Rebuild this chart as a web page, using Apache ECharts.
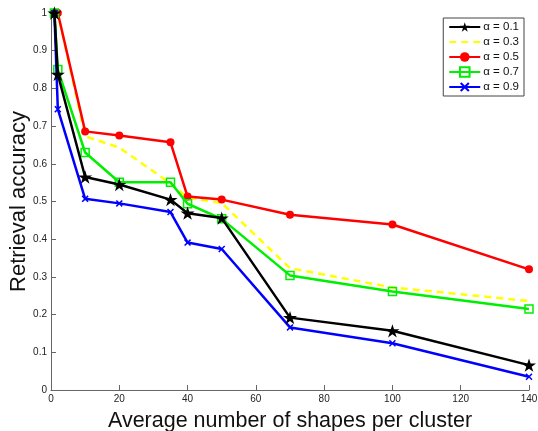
<!DOCTYPE html>
<html><head><meta charset="utf-8">
<script src="https://cdn.jsdelivr.net/npm/echarts@6/dist/echarts.min.js"></script>
<style>html,body{margin:0;padding:0;background:#fff}#c{width:538px;height:431px}</style>
</head><body><div id="c"></div>
<script>
var xValues = [1, 2, 10, 20, 35, 40, 50, 70, 100, 140];
var seriesNames = ['α = 0.1', 'α = 0.3', 'α = 0.5', 'α = 0.7', 'α = 0.9'];
var alpha01 = [1.0, 0.837, 0.565, 0.545, 0.505, 0.469, 0.456, 0.192, 0.157, 0.066];
var alpha03 = [1.0, 1.0, 0.673, 0.643, 0.548, 0.510, 0.496, 0.323, 0.272, 0.236];
var alpha05 = [1.0, 1.0, 0.686, 0.675, 0.657, 0.513, 0.505, 0.465, 0.439, 0.320];
var alpha07 = [1.0, 0.850, 0.630, 0.551, 0.551, 0.494, 0.454, 0.304, 0.261, 0.215];
var alpha09 = [1.0, 0.745, 0.507, 0.495, 0.472, 0.391, 0.374, 0.166, 0.124, 0.035];
var xTicks = [0, 20, 40, 60, 80, 100, 120, 140];
var yTickLabels = ['0', '0.1', '0.2', '0.3', '0.4', '0.5', '0.6', '0.7', '0.8', '0.9', '1'];

function pairs(ys) { return xValues.map(function (x, i) { return [x, ys[i]]; }); }

var starPath = 'path://M50,0 L61.2,34.5 L97.6,34.5 L68.2,55.9 L79.4,90.5 L50,69.1 L20.6,90.5 L31.8,55.9 L2.4,34.5 L38.8,34.5 Z';
var crossPath = 'path://M0,3 L3,0 L10,7 L17,0 L20,3 L13,10 L20,17 L17,20 L10,13 L3,20 L0,17 L7,10 Z';
var FONT = 'Liberation Sans, Arial, Helvetica, sans-serif';

var chart = echarts.init(document.getElementById('c'), null, {renderer: 'canvas'});
chart.setOption({
  animation: false,
  backgroundColor: '#fff',
  grid: {left: 51, right: 9, top: 13, bottom: 41, containLabel: false, outerBoundsMode: 'none'},
  legend: {
    orient: 'vertical', right: 14, top: 18,
    backgroundColor: '#fff', borderColor: '#444', borderWidth: 1, borderRadius: 0,
    padding: [3, 5, 3, 5], itemGap: 3, itemWidth: 31, itemHeight: 12,
    textStyle: {fontFamily: FONT, fontSize: 11.5, color: '#111', padding: [0, 0, 0, -2]},
    data: [
      {name: seriesNames[0]},
      {name: seriesNames[1], itemStyle: {opacity: 0}},
      {name: seriesNames[2]},
      {name: seriesNames[3]},
      {name: seriesNames[4]}
    ]
  },
  xAxis: {
    type: 'value', min: 0, max: 140, interval: 20,
    name: 'Average number of shapes per cluster', nameLocation: 'middle', nameGap: 20,
    nameMoveOverlap: false,
    nameTextStyle: {fontFamily: FONT, fontSize: 21.5, color: '#111'},
    axisLine: {show: true, lineStyle: {color: '#666', width: 1}},
    axisTick: {show: true, inside: true, length: 5, lineStyle: {color: '#666'}},
    axisLabel: {fontFamily: FONT, fontSize: 10, color: '#222', margin: 4,
      formatter: function (v) { var i = xTicks.indexOf(v); return i >= 0 ? String(xTicks[i]) : ''; }},
    splitLine: {show: false}
  },
  yAxis: {
    type: 'value', min: 0, max: 1, interval: 0.1,
    name: 'Retrieval accuracy', nameLocation: 'middle', nameGap: 21,
    nameMoveOverlap: false,
    nameTextStyle: {fontFamily: FONT, fontSize: 22, color: '#111'},
    axisLine: {show: true, lineStyle: {color: '#666', width: 1}},
    axisTick: {show: true, inside: true, length: 5, lineStyle: {color: '#666'}},
    axisLabel: {fontFamily: FONT, fontSize: 10, color: '#222', margin: 4,
      formatter: function (v) { return yTickLabels[Math.round(v * 10)]; }},
    splitLine: {show: false}
  },
  series: [
    {name: seriesNames[0], type: 'line', data: pairs(alpha01), z: 5,
      symbol: starPath, symbolSize: 14, symbolKeepAspect: true,
      lineStyle: {color: '#000', width: 2.5}, itemStyle: {color: '#000'}},
    {name: seriesNames[1], type: 'line', data: pairs(alpha03), z: 1,
      symbol: 'none',
      lineStyle: {color: '#ffff00', width: 2.5, type: [7, 5]}, itemStyle: {color: '#ffff00'}},
    {name: seriesNames[2], type: 'line', data: pairs(alpha05), z: 2,
      symbol: 'circle', symbolSize: 8,
      lineStyle: {color: '#ff0000', width: 2.5}, itemStyle: {color: '#ff0000'}},
    {name: seriesNames[3], type: 'line', data: pairs(alpha07), z: 3,
      symbol: 'rect', symbolSize: 8,
      lineStyle: {color: '#00ee00', width: 2.5},
      itemStyle: {color: 'rgba(255,255,255,0)', borderColor: '#00ee00', borderWidth: 1.5}},
    {name: seriesNames[4], type: 'line', data: pairs(alpha09), z: 4,
      symbol: crossPath, symbolSize: 7,
      lineStyle: {color: '#0000ff', width: 2.5}, itemStyle: {color: '#0000ff'}}
  ]
});
</script></body></html>
